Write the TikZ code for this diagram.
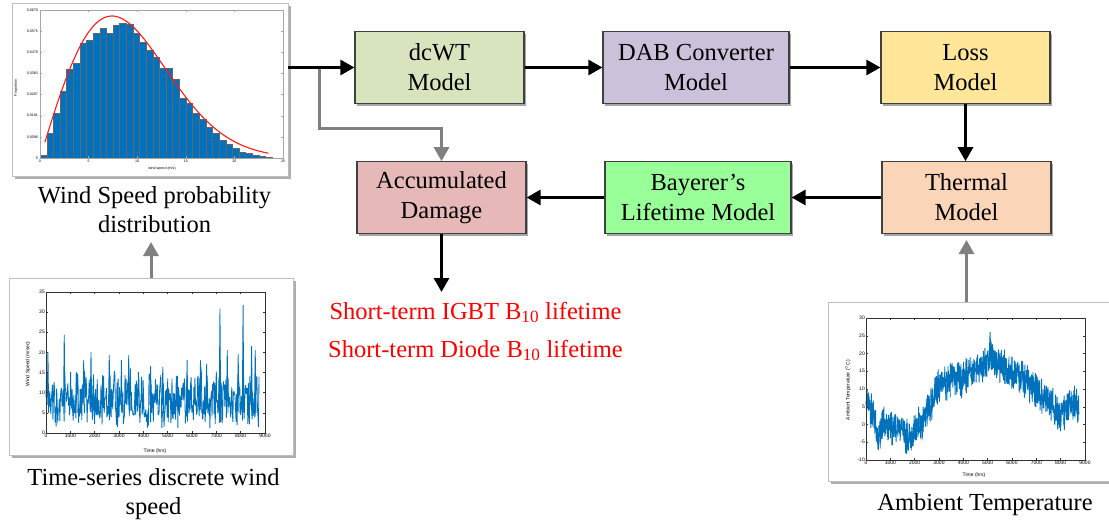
\documentclass[tikz,border=0pt]{standalone}
\usepackage{fontspec}
\setmainfont{Liberation Serif}
\newfontfamily\plotfont{Liberation Sans}
\usetikzlibrary{arrows.meta,shadows}

\definecolor{dcwtfill}{RGB}{215,228,189}
\definecolor{dabfill}{RGB}{204,193,218}
\definecolor{lossfill}{RGB}{255,230,153}
\definecolor{thermfill}{RGB}{250,213,183}
\definecolor{bayfill}{RGB}{153,255,153}
\definecolor{accfill}{RGB}{230,185,184}
\definecolor{boxline}{RGB}{64,64,64}
\definecolor{arrgray}{RGB}{128,128,128}
\definecolor{mblue}{RGB}{0,114,189}
\definecolor{lifered}{RGB}{255,0,0}

\newcommand\boxfont{\fontsize{24.5}{30}\selectfont}
\newcommand\tickfont{\plotfont\fontsize{5}{6}\selectfont}
\newcommand\histfont{\plotfont\fontsize{3.6}{4}\selectfont}

\begin{document}
\begin{tikzpicture}[x=1pt,y=-1pt,
  model/.style={draw=boxline, line width=1.2pt, minimum height=71.5pt, inner sep=0pt,
    align=center, font=\boxfont,
    drop shadow={shadow xshift=2pt,shadow yshift=-2.5pt,opacity=0.35,fill=black}},
  flow/.style={line width=3pt, -{Triangle[length=14pt,width=15pt]}},
  gflow/.style={flow, draw=arrgray, color=arrgray},
  captext/.style={anchor=base, font=\boxfont, inner sep=0pt},
  lifetext/.style={captext, text=lifered},
  plotframe/.style={draw=gray!50, line width=0.8pt, fill=white, inner sep=0pt,
    drop shadow={shadow xshift=2.5pt,shadow yshift=-2.5pt,opacity=0.45,fill=black!70}},
  axisline/.style={line width=0.45pt, draw=black!80},
  histaxis/.style={line width=0.4pt, draw=gray!70},
  wline/.style={mblue, line width=0.85pt, line join=round},
  ticklab/.style={font=\tickfont, inner sep=1pt},
  histlab/.style={font=\histfont, inner sep=0.8pt}
]
\useasboundingbox (0,0) rectangle (1109,525);

% ---------- plot frames ----------
\node[plotframe, minimum width=276pt, minimum height=173pt] (hist) at (150,89.5) {};
\node[plotframe, minimum width=284pt, minimum height=177pt] (ts) at (151,366.5) {};
\node[plotframe, minimum width=285pt, minimum height=179pt] (amb) at (970.5,391.5) {};

% ---------- wind speed histogram ----------
\foreach \h [count=\i from 0] in {3,25,45,67,89,95,115,118,125,130,125,133,135,134,125,116,108,101,90,90,79,60,55,45,39,31,25,18,14,10,6,5,3,2,1}
  \filldraw[fill=mblue, draw=black!60, line width=0.25pt] ({40+\i*6.63},158) rectangle ++(6.63,-\h);
\draw[red!90, line width=1.1pt] plot[domain=0.5:23.5, samples=90]
  ({40+9.72*\x},{158-142*(\x/7.4)*exp(0.5-\x*\x/109.52)});
\draw[histaxis] (40,10) rectangle (283,158);
\foreach \k in {0,...,5} {
  \draw[histaxis] ({40+48.6*\k},158) -- ++(0,-2);
  \draw[histaxis] ({40+48.6*\k},10) -- ++(0,2);
  \pgfmathtruncatemacro\lab{5*\k}
  \node[histlab, anchor=north] (hx\k) at ({40+48.6*\k},159) {\lab};
}
\foreach \v [count=\k from 0] in {0,0.0096,0.0191,0.0287,0.0383,0.0479,0.0575,0.0670} {
  \draw[histaxis] (40,{158-21.14*\k}) -- ++(2,0);
  \draw[histaxis] (283,{158-21.14*\k}) -- ++(-2,0);
  \node[histlab, anchor=east] (hy\k) at (39,{158-21.14*\k}) {\v};
}
\node[histlab, rotate=90] (hylab) at (16,88) {Proportion};
\node[histlab] (hxlab) at (162,169) {wind speed (m/s)};

% ---------- time-series wind speed ----------
\begin{scope}[shift={(46pt,-433pt)}, x=24.33pt, y=4.03pt]
  \pgfmathsetseed{7}
  \draw[wline] plot[domain=0:8.76, samples=400, variable=\t]
    (\t, {max(0.4, 8.3 + 6.3*rand + 1.8*rand)});
  \foreach \t/\v in {0.08/20,0.75/24.3,1.25/15,1.55/18,1.85/20,2.6/19.3,3.1/18,3.4/19.3,4.3/16.5,
                     4.8/16.3,5.8/18,6.35/18,6.6/17,7.15/30.8,7.45/20.5,7.9/19.5,8.1/31.7,8.45/21.5,8.6/20.5}
    \draw[wline] (\t-0.03,7) -- (\t,\v) -- (\t+0.03,5);
  \draw[axisline] (0,0) rectangle (9,35);
  \foreach \k/\lab in {0/0,1/1000,2/2000,3/3000,4/4000,5/5000,6/6000,7/7000,8/8000,9/9000} {
    \draw[axisline] (\k,0) -- ++(0,0.6);
    \draw[axisline] (\k,35) -- ++(0,-0.6);
    \node[ticklab, anchor=north] (tx\k) at (\k,0) {\lab};
  }
  \foreach \v in {0,5,...,35} {
    \draw[axisline] (0,\v) -- ++(0.09,0);
    \draw[axisline] (9,\v) -- ++(-0.09,0);
    \node[ticklab, anchor=east] (ty\v) at (0,\v) {\v};
  }
\end{scope}
\node[ticklab, rotate=90] (tylab) at (28,364) {Wind Speed (m/sec)};
\node[ticklab] (txlab) at (155,451) {Time (hrs)};

% ---------- ambient temperature ----------
\begin{scope}[shift={(866pt,-424.5pt)}, x=24.33pt, y=3.55pt]
  \pgfmathsetseed{11}
  \foreach \ta/\va/\tb/\vb in {0/6/0.3/3, 0.3/3/0.5/-4.5, 0.5/-4.5/0.7/1, 0.7/1/0.9/0.5, 0.9/0.5/1.1/-2,
      1.1/-2/1.3/0.5, 1.3/0.5/1.5/-1, 1.5/-1/1.7/-4, 1.7/-4/1.9/-3, 1.9/-3/2.2/0, 2.2/0/2.5/3,
      2.5/3/2.7/6, 2.7/6/3.0/11, 3.0/11/3.3/12, 3.3/12/3.6/13, 3.6/13/4.0/13, 4.0/13/4.3/14.5,
      4.3/14.5/4.7/16, 4.7/16/5.0/18.5, 5.0/18.5/5.15/19.5, 5.15/19.5/5.4/16.5, 5.4/16.5/5.7/16,
      5.7/16/6.0/14.5, 6.0/14.5/6.4/13, 6.4/13/6.8/11, 6.8/11/7.2/8.5, 7.2/8.5/7.6/5.5,
      7.6/5.5/8.0/2.5, 8.0/2.5/8.2/4.5, 8.2/4.5/8.5/5.5, 8.5/5.5/8.76/5}
    \draw[wline] plot[domain=\ta:\tb, samples={int(4+120*(\tb-\ta))}, variable=\t]
      (\t, {\va+(\t-\ta)/(\tb-\ta)*(\vb-\va)+3.4*rand+2.4*rand});
  \draw[wline] (5.06,19) -- (5.1,26) -- (5.14,18);
  \draw[wline] (0.48,-2) -- (0.5,-7) -- (0.53,-3);
  \draw[wline] (1.68,-3) -- (1.7,-7) -- (1.73,-3);
  \draw[wline] (8.13,2) -- (8.15,-1.5) -- (8.18,3);
  \draw[axisline] (0,-10) rectangle (9,30);
  \foreach \k/\lab in {0/0,1/1000,2/2000,3/3000,4/4000,5/5000,6/6000,7/7000,8/8000,9/9000} {
    \draw[axisline] (\k,-10) -- ++(0,0.7);
    \draw[axisline] (\k,30) -- ++(0,-0.7);
    \node[ticklab, anchor=north] (ax\k) at (\k,-10) {\lab};
  }
  \foreach \v [count=\k] in {-10,-5,0,5,10,15,20,25,30} {
    \draw[axisline] (0,\v) -- ++(0.09,0);
    \draw[axisline] (9,\v) -- ++(-0.09,0);
    \node[ticklab, anchor=east] (ay\k) at (0,\v) {\v};
  }
\end{scope}
\node[ticklab, rotate=90] (aylab) at (848,390) {Ambient Temperature ($^{\circ}$C)};
\node[ticklab] (axlab) at (974,475) {Time (hrs)};

% ---------- captions ----------
\node[captext] (wcap1) at (154.5,203) {Wind Speed probability};
\node[captext] (wcap2) at (154.5,232) {distribution};
\node[captext] (tcap1) at (153.5,485) {Time-series discrete wind};
\node[captext] (tcap2) at (153.5,514) {speed};
\node[captext] (acap) at (985,510.5) {Ambient Temperature};

% ---------- model blocks ----------
\node[model, fill=dcwtfill, minimum width=169pt] (dcwt) at (439.5,67.5) {dcWT\\Model};
\node[model, fill=dabfill, minimum width=186pt] (dab) at (696,67.5) {DAB Converter\\Model};
\node[model, fill=lossfill, minimum width=169pt] (loss) at (965.5,67.5) {Loss\\Model};
\node[model, fill=thermfill, minimum width=169pt] (thermal) at (966.5,197.5) {Thermal\\Model};
\node[model, fill=bayfill, minimum width=186pt] (bayer) at (698,197.5) {Bayerer’s\\Lifetime Model};
\node[model, fill=accfill, minimum width=169pt] (accum) at (441.5,197.5) {Accumulated\\Damage};

% ---------- results ----------
\node[lifetext] (life1) at (475.5,319) {Short-term IGBT B\textsubscript{10} lifetime};
\node[lifetext] (life2) at (475.5,357) {Short-term Diode B\textsubscript{10} lifetime};

% ---------- connectors ----------
\coordinate (histout) at (hist.east |- dcwt.west);
\coordinate (split) at (319,67.5);
\coordinate (lifein) at (441.5,292);
\coordinate (wcapin) at (151,242);
\coordinate (thermin) at (966.5,240);

\draw[gflow] (split) -- ++(0,60.5) -| (accum.north);
\draw[flow] (histout) -- (dcwt.west);
\draw[flow] (dcwt) -- (dab);
\draw[flow] (dab) -- (loss);
\draw[flow] (loss.south) -- (loss.south |- thermal.north);
\draw[flow] (thermal) -- (bayer);
\draw[flow] (bayer) -- (accum);
\draw[flow] (accum.south) -- (lifein);
\draw[gflow] (ts.north) -- (wcapin);
\draw[gflow] (amb.north -| thermin) -- (thermin);
\end{tikzpicture}
\end{document}
